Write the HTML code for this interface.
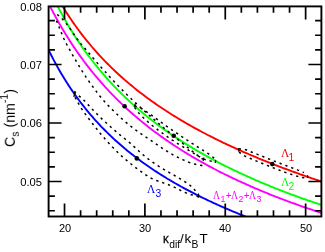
<!DOCTYPE html>
<html><head><meta charset="utf-8"><style>
html,body{margin:0;padding:0;background:#fff;}
body{width:325px;height:252px;position:relative;overflow:hidden;font-family:"Liberation Sans",sans-serif;color:#000;}
.t{position:absolute;white-space:nowrap;line-height:1;will-change:transform;}
.yl{font-size:11.2px;text-align:right;width:30px;left:11.5px;}
.xl{font-size:11px;text-align:center;width:30px;top:222.6px;}
.lam{font-family:"Liberation Serif",serif;}
.L{display:inline-block;transform-origin:0 50%;transform:scaleX(0.82);}
.p{font-family:"Liberation Sans",sans-serif;font-size:10px;margin:0 -0.5px 0 0.3px;}
sub.s{font-family:"Liberation Sans",sans-serif;vertical-align:baseline;position:relative;line-height:0;}
</style></head><body>
<svg width="325" height="252" viewBox="0 0 325 252" style="position:absolute;left:0;top:0">
<defs><clipPath id="c"><rect x="48.60" y="6.40" width="272.80" height="210.10"/></clipPath></defs>
<g clip-path="url(#c)">
<path d="M48.60 49.98 L50.05 52.91 L51.50 55.78 L52.95 58.58 L54.40 61.32 L55.84 64.00 L57.29 66.62 L58.74 69.19 L60.19 71.71 L61.64 74.17 L63.09 76.59 L64.54 78.95 L65.99 81.27 L67.44 83.55 L68.88 85.78 L70.33 87.97 L71.78 90.11 L73.23 92.22 L74.68 94.29 L76.13 96.32 L77.58 98.32 L79.03 100.28 L80.48 102.20 L81.93 104.09 L83.37 105.95 L84.82 107.78 L86.27 109.58 L87.72 111.34 L89.17 113.08 L90.62 114.79 L92.07 116.47 L93.52 118.13 L94.97 119.76 L96.41 121.37 L97.86 122.95 L99.31 124.50 L100.76 126.03 L102.21 127.54 L103.66 129.03 L105.11 130.50 L106.56 131.94 L108.01 133.37 L109.45 134.77 L110.90 136.16 L112.35 137.52 L113.80 138.87 L115.25 140.20 L116.70 141.51 L118.15 142.80 L119.60 144.08 L121.05 145.34 L122.49 146.58 L123.94 147.81 L125.39 149.02 L126.84 150.22 L128.29 151.40 L129.74 152.56 L131.19 153.72 L132.64 154.86 L134.09 155.98 L135.54 157.09 L136.98 158.19 L138.43 159.28 L139.88 160.35 L141.33 161.42 L142.78 162.47 L144.23 163.50 L145.68 164.53 L147.13 165.54 L148.58 166.55 L150.02 167.54 L151.47 168.52 L152.92 169.50 L154.37 170.46 L155.82 171.41 L157.27 172.35 L158.72 173.29 L160.17 174.21 L161.62 175.12 L163.06 176.03 L164.51 176.92 L165.96 177.81 L167.41 178.69 L168.86 179.56 L170.31 180.42 L171.76 181.27 L173.21 182.12 L174.66 182.96 L176.11 183.78 L177.55 184.61 L179.00 185.42 L180.45 186.23 L181.90 187.03 L183.35 187.82 L184.80 188.61 L186.25 189.39 L187.70 190.16 L189.15 190.93 L190.59 191.68 L192.04 192.44 L193.49 193.18 L194.94 193.92 L196.39 194.66 L197.84 195.39 L199.29 196.11 L200.74 196.83 L202.19 197.54 L203.63 198.24 L205.08 198.94 L206.53 199.64 L207.98 200.32 L209.43 201.01 L210.88 201.69 L212.33 202.36 L213.78 203.03 L215.23 203.69 L216.67 204.35 L218.12 205.00 L219.57 205.65 L221.02 206.30 L222.47 206.93 L223.92 207.57 L225.37 208.20 L226.82 208.83 L228.27 209.45 L229.72 210.06 L231.16 210.68 L232.61 211.29 L234.06 211.89 L235.51 212.49 L236.96 213.09 L238.41 213.68 L239.86 214.27 L241.31 214.85 L242.76 215.43 L244.20 216.01 L245.65 216.58 L247.10 217.15 L248.55 217.72 L250.00 218.28" stroke="#0000ff" stroke-width="1.9" fill="none"/>
<path d="M48.60 3.43 L50.56 7.31 L52.53 11.10 L54.49 14.79 L56.45 18.40 L58.41 21.92 L60.38 25.36 L62.34 28.72 L64.30 32.01 L66.26 35.22 L68.23 38.36 L70.19 41.43 L72.15 44.44 L74.11 47.38 L76.08 50.27 L78.04 53.09 L80.00 55.85 L81.96 58.56 L83.93 61.22 L85.89 63.82 L87.85 66.38 L89.81 68.88 L91.78 71.34 L93.74 73.76 L95.70 76.12 L97.66 78.45 L99.63 80.73 L101.59 82.98 L103.55 85.18 L105.52 87.34 L107.48 89.47 L109.44 91.57 L111.40 93.62 L113.37 95.65 L115.33 97.64 L117.29 99.59 L119.25 101.52 L121.22 103.42 L123.18 105.28 L125.14 107.12 L127.10 108.93 L129.07 110.71 L131.03 112.46 L132.99 114.19 L134.95 115.89 L136.92 117.57 L138.88 119.23 L140.84 120.86 L142.80 122.46 L144.77 124.05 L146.73 125.61 L148.69 127.15 L150.65 128.67 L152.62 130.17 L154.58 131.65 L156.54 133.11 L158.51 134.55 L160.47 135.97 L162.43 137.37 L164.39 138.75 L166.36 140.12 L168.32 141.47 L170.28 142.81 L172.24 144.12 L174.21 145.42 L176.17 146.71 L178.13 147.98 L180.09 149.23 L182.06 150.47 L184.02 151.69 L185.98 152.90 L187.94 154.10 L189.91 155.28 L191.87 156.45 L193.83 157.61 L195.79 158.75 L197.76 159.88 L199.72 161.00 L201.68 162.10 L203.64 163.20 L205.61 164.28 L207.57 165.35 L209.53 166.41 L211.49 167.45 L213.46 168.49 L215.42 169.52 L217.38 170.53 L219.35 171.54 L221.31 172.53 L223.27 173.52 L225.23 174.49 L227.20 175.46 L229.16 176.41 L231.12 177.36 L233.08 178.30 L235.05 179.22 L237.01 180.14 L238.97 181.05 L240.93 181.95 L242.90 182.85 L244.86 183.73 L246.82 184.61 L248.78 185.48 L250.75 186.34 L252.71 187.19 L254.67 188.04 L256.63 188.87 L258.60 189.71 L260.56 190.53 L262.52 191.34 L264.48 192.15 L266.45 192.95 L268.41 193.75 L270.37 194.54 L272.34 195.32 L274.30 196.09 L276.26 196.86 L278.22 197.62 L280.19 198.38 L282.15 199.12 L284.11 199.87 L286.07 200.60 L288.04 201.33 L290.00 202.06 L291.96 202.78 L293.92 203.49 L295.89 204.20 L297.85 204.90 L299.81 205.60 L301.77 206.29 L303.74 206.98 L305.70 207.66 L307.66 208.33 L309.62 209.00 L311.59 209.67 L313.55 210.33 L315.51 210.98 L317.47 211.63 L319.44 212.28 L321.40 212.92" stroke="#ff00ff" stroke-width="1.9" fill="none"/>
<path d="M52.00 -4.88 L53.94 -0.93 L55.88 2.93 L57.81 6.68 L59.75 10.35 L61.69 13.92 L63.63 17.41 L65.57 20.81 L67.51 24.14 L69.44 27.39 L71.38 30.56 L73.32 33.66 L75.26 36.70 L77.20 39.67 L79.13 42.57 L81.07 45.42 L83.01 48.20 L84.95 50.93 L86.89 53.60 L88.82 56.21 L90.76 58.78 L92.70 61.29 L94.64 63.76 L96.58 66.18 L98.52 68.55 L100.45 70.88 L102.39 73.17 L104.33 75.42 L106.27 77.62 L108.21 79.79 L110.14 81.91 L112.08 84.00 L114.02 86.06 L115.96 88.08 L117.90 90.07 L119.83 92.02 L121.77 93.94 L123.71 95.83 L125.65 97.69 L127.59 99.53 L129.53 101.33 L131.46 103.10 L133.40 104.85 L135.34 106.57 L137.28 108.27 L139.22 109.94 L141.15 111.58 L143.09 113.21 L145.03 114.80 L146.97 116.38 L148.91 117.93 L150.84 119.47 L152.78 120.98 L154.72 122.47 L156.66 123.94 L158.60 125.39 L160.54 126.82 L162.47 128.23 L164.41 129.62 L166.35 131.00 L168.29 132.36 L170.23 133.70 L172.16 135.03 L174.10 136.33 L176.04 137.63 L177.98 138.90 L179.92 140.16 L181.85 141.41 L183.79 142.64 L185.73 143.86 L187.67 145.06 L189.61 146.25 L191.55 147.42 L193.48 148.58 L195.42 149.73 L197.36 150.87 L199.30 151.99 L201.24 153.10 L203.17 154.20 L205.11 155.29 L207.05 156.36 L208.99 157.43 L210.93 158.48 L212.86 159.52 L214.80 160.55 L216.74 161.57 L218.68 162.58 L220.62 163.58 L222.56 164.57 L224.49 165.55 L226.43 166.52 L228.37 167.48 L230.31 168.43 L232.25 169.38 L234.18 170.31 L236.12 171.23 L238.06 172.15 L240.00 173.06 L241.94 173.96 L243.87 174.85 L245.81 175.73 L247.75 176.60 L249.69 177.47 L251.63 178.33 L253.57 179.18 L255.50 180.02 L257.44 180.86 L259.38 181.69 L261.32 182.51 L263.26 183.33 L265.19 184.13 L267.13 184.93 L269.07 185.73 L271.01 186.52 L272.95 187.30 L274.88 188.07 L276.82 188.84 L278.76 189.60 L280.70 190.36 L282.64 191.11 L284.58 191.85 L286.51 192.59 L288.45 193.32 L290.39 194.05 L292.33 194.77 L294.27 195.49 L296.20 196.20 L298.14 196.90 L300.08 197.60 L302.02 198.30 L303.96 198.99 L305.89 199.67 L307.83 200.35 L309.77 201.02 L311.71 201.69 L313.65 202.35 L315.59 203.01 L317.52 203.67 L319.46 204.32 L321.40 204.96" stroke="#00ff00" stroke-width="1.9" fill="none"/>
<path d="M56.00 -4.78 L57.91 -1.43 L59.82 1.83 L61.73 5.02 L63.64 8.12 L65.55 11.16 L67.46 14.12 L69.37 17.02 L71.27 19.84 L73.18 22.61 L75.09 25.31 L77.00 27.96 L78.91 30.55 L80.82 33.08 L82.73 35.57 L84.64 38.00 L86.55 40.38 L88.46 42.72 L90.37 45.01 L92.28 47.25 L94.19 49.45 L96.10 51.62 L98.01 53.74 L99.92 55.82 L101.82 57.86 L103.73 59.87 L105.64 61.85 L107.55 63.79 L109.46 65.69 L111.37 67.57 L113.28 69.41 L115.19 71.22 L117.10 73.01 L119.01 74.76 L120.92 76.49 L122.83 78.19 L124.74 79.87 L126.65 81.51 L128.56 83.14 L130.46 84.74 L132.37 86.32 L134.28 87.87 L136.19 89.40 L138.10 90.91 L140.01 92.40 L141.92 93.87 L143.83 95.32 L145.74 96.75 L147.65 98.16 L149.56 99.55 L151.47 100.92 L153.38 102.28 L155.29 103.62 L157.20 104.94 L159.11 106.24 L161.01 107.53 L162.92 108.81 L164.83 110.06 L166.74 111.31 L168.65 112.54 L170.56 113.75 L172.47 114.95 L174.38 116.14 L176.29 117.31 L178.20 118.47 L180.11 119.62 L182.02 120.75 L183.93 121.88 L185.84 122.99 L187.75 124.09 L189.65 125.18 L191.56 126.25 L193.47 127.32 L195.38 128.37 L197.29 129.42 L199.20 130.45 L201.11 131.47 L203.02 132.49 L204.93 133.49 L206.84 134.48 L208.75 135.47 L210.66 136.44 L212.57 137.41 L214.48 138.37 L216.39 139.31 L218.29 140.25 L220.20 141.19 L222.11 142.11 L224.02 143.03 L225.93 143.93 L227.84 144.83 L229.75 145.72 L231.66 146.61 L233.57 147.48 L235.48 148.35 L237.39 149.22 L239.30 150.07 L241.21 150.92 L243.12 151.76 L245.03 152.60 L246.94 153.42 L248.84 154.25 L250.75 155.06 L252.66 155.87 L254.57 156.67 L256.48 157.47 L258.39 158.26 L260.30 159.05 L262.21 159.83 L264.12 160.60 L266.03 161.37 L267.94 162.13 L269.85 162.89 L271.76 163.64 L273.67 164.38 L275.58 165.12 L277.48 165.86 L279.39 166.59 L281.30 167.32 L283.21 168.04 L285.12 168.75 L287.03 169.46 L288.94 170.17 L290.85 170.87 L292.76 171.57 L294.67 172.26 L296.58 172.95 L298.49 173.64 L300.40 174.32 L302.31 174.99 L304.22 175.66 L306.13 176.33 L308.03 176.99 L309.94 177.65 L311.85 178.31 L313.76 178.96 L315.67 179.60 L317.58 180.25 L319.49 180.89 L321.40 181.52" stroke="#ff0000" stroke-width="1.9" fill="none"/>
<path d="M57.20 14.50 L58.69 15.60 L59.40 16.20 L60.22 16.93 L61.17 17.81 L62.09 18.72 L62.97 19.66 L63.82 20.64 L64.65 21.64 L65.48 22.64 L66.30 23.65 L67.11 24.66 L67.91 25.69 L68.68 26.73 L69.45 27.78 L70.20 28.84 L70.94 29.91 L71.66 30.99 L72.38 32.07 L73.10 33.15 L73.82 34.24 L74.54 35.32 L75.27 36.39 L76.02 37.46 L76.77 38.52 L77.54 39.56 L78.32 40.60 L79.12 41.63 L79.94 42.63 L80.77 43.63 L81.60 44.63 L82.45 45.61 L83.30 46.59 L84.16 47.57 L85.02 48.54 L85.88 49.52 L86.74 50.50 L87.59 51.48 L88.44 52.46 L89.29 53.45 L90.13 54.44 L90.97 55.43 L91.81 56.42 L92.64 57.42 L93.48 58.41 L94.32 59.40 L95.16 60.40 L95.99 61.39 L96.83 62.38 L97.67 63.38 L98.52 64.36 L99.37 65.35 L100.22 66.32 L101.08 67.30 L101.95 68.26 L102.83 69.23 L103.70 70.19 L104.58 71.14 L105.46 72.10 L106.34 73.06 L107.22 74.02 L108.10 74.98 L108.98 75.93 L109.86 76.89 L110.74 77.84 L111.62 78.80 L112.51 79.75 L113.39 80.70 L114.28 81.65 L115.17 82.60 L116.05 83.55 L116.94 84.50 L117.83 85.45 L118.72 86.39 L119.62 87.33 L120.53 88.26 L121.44 89.19 L122.36 90.11 L123.28 91.03 L124.20 91.94 L125.13 92.85 L126.05 93.77 L126.97 94.68 L127.90 95.59 L128.83 96.51 L129.76 97.41 L130.69 98.32 L131.63 99.21 L132.57 100.11 L133.52 101.00 L134.47 101.88 L135.43 102.76 L136.39 103.64 L137.34 104.52 L138.30 105.40 L139.25 106.28 L140.21 107.16 L141.17 108.05 L142.12 108.93 L143.08 109.80 L144.04 110.68 L145.01 111.54 L145.98 112.41 L146.95 113.27 L147.93 114.13 L148.91 114.98 L149.89 115.83 L150.87 116.69 L151.85 117.54 L152.83 118.39 L153.81 119.25 L154.79 120.10 L155.77 120.95 L156.75 121.81 L157.73 122.66 L158.71 123.52 L159.69 124.37 L160.67 125.23 L161.65 126.08 L162.64 126.93 L163.63 127.77 L164.62 128.61 L165.62 129.44 L166.62 130.27 L167.62 131.09 L168.63 131.92 L169.64 132.74 L170.64 133.56 L171.65 134.38 L172.65 135.21 L173.66 136.03 L174.67 136.85 L175.68 137.67 L176.68 138.49 L177.69 139.31 L178.70 140.13 L179.71 140.96 L180.71 141.78 L181.72 142.60 L182.73 143.42 L183.74 144.24 L184.74 145.06 L185.75 145.88 L186.76 146.70 L187.77 147.53 L188.77 148.35 L189.78 149.17 L190.79 149.99 L191.80 150.81 L192.80 151.63 L193.81 152.45 L194.82 153.27 L195.84 154.08 L196.87 154.87 L197.90 155.66 L198.95 156.43 L200.00 157.19 L200.91 157.84 L201.67 158.36 L203.20 159.42 M56.50 20.66 L57.73 23.71 L58.96 26.75 L60.19 29.80 L61.42 32.85 L62.66 35.91 L63.89 38.74 L65.12 41.34 L66.35 43.72 L67.58 46.00 L68.81 48.25 L70.04 50.48 L71.27 52.68 L72.50 54.85 L73.74 57.01 L74.97 59.14 L76.20 61.24 L77.43 63.32 L78.66 65.38 L79.89 67.42 L81.12 69.43 L82.35 71.39 L83.58 73.32 L84.82 75.22 L86.05 77.08 L87.28 78.90 L88.51 80.69 L89.74 82.45 L90.97 84.17 L92.20 85.87 L93.43 87.55 L94.66 89.22 L95.89 90.87 L97.13 92.50 L98.36 94.11 L99.59 95.68 L100.82 97.21 L102.05 98.69 L103.28 100.14 L104.51 101.55 L105.74 102.92 L106.97 104.25 L108.21 105.54 L109.44 106.79 L110.67 108.04 L111.90 109.27 L113.13 110.48 L114.36 111.69 L115.59 112.88 L116.82 114.05 L118.05 115.22 L119.29 116.37 L120.52 117.51 L121.75 118.64 L122.98 119.75 L124.21 120.84 L125.44 121.90 L126.67 122.94 L127.90 123.96 L129.13 124.96 L130.37 125.94 L131.60 126.89 L132.83 127.82 L134.06 128.74 L135.29 129.65 L136.52 130.55 L137.75 131.44 L138.98 132.32 L140.21 133.19 L141.45 134.05 L142.68 134.90 L143.91 135.74 L145.14 136.58 L146.37 137.41 L147.60 138.24 L148.83 139.07 L150.06 139.90 L151.29 140.74 L152.53 141.58 L153.76 142.42 L154.99 143.27 L156.22 144.12 L157.45 144.97 L158.68 145.81 L159.91 146.64 L161.14 147.47 L162.37 148.29 L163.61 149.10 L164.84 149.91 L166.07 150.70 L167.30 151.49 L168.53 152.26 L169.76 153.01 L170.99 153.73 L172.22 154.43 L173.45 155.11 L174.68 155.76 L175.92 156.40 L177.15 157.01 L178.38 157.61 L179.61 158.20 L180.84 158.78 L182.07 159.36 L183.30 159.93 L184.53 160.49 L185.76 161.04 L187.00 161.56 L188.23 162.04 L189.46 162.50 L190.69 162.92 L191.92 163.32 L193.15 163.69 L194.38 164.02 L195.61 164.33 L196.84 164.62 L198.08 164.77 L199.31 164.97 L200.54 165.21 L201.77 165.50 L203.00 165.82 M134.80 105.65 L135.48 106.02 L136.16 106.35 L136.84 106.63 L137.52 106.87 L138.20 107.08 L138.88 107.33 L139.56 107.60 L140.24 107.91 L140.92 108.23 L141.60 108.59 L142.28 108.98 L142.96 109.40 L143.64 109.85 L144.32 110.30 L145.00 110.75 L145.68 111.20 L146.36 111.65 L147.04 112.10 L147.72 112.56 L148.40 113.03 L149.08 113.51 L149.76 113.99 L150.44 114.47 L151.12 114.96 L151.80 115.46 L152.48 115.96 L153.16 116.46 L153.84 116.97 L154.52 117.47 L155.19 117.97 L155.87 118.46 L156.55 118.96 L157.23 119.45 L157.91 119.94 L158.59 120.43 L159.27 120.92 L159.95 121.41 L160.63 121.90 L161.31 122.39 L161.99 122.89 L162.67 123.38 L163.35 123.87 L164.03 124.35 L164.71 124.84 L165.39 125.32 L166.07 125.80 L166.75 126.28 L167.43 126.76 L168.11 127.24 L168.79 127.71 L169.47 128.18 L170.15 128.65 L170.83 129.12 L171.51 129.58 L172.19 130.04 L172.87 130.50 L173.55 130.96 L174.23 131.42 L174.91 131.89 L175.59 132.35 L176.27 132.81 L176.95 133.28 L177.63 133.74 L178.31 134.21 L178.99 134.68 L179.67 135.15 L180.35 135.62 L181.03 136.08 L181.71 136.54 L182.39 137.00 L183.07 137.46 L183.75 137.92 L184.43 138.38 L185.11 138.83 L185.79 139.29 L186.47 139.74 L187.15 140.19 L187.83 140.64 L188.51 141.09 L189.19 141.53 L189.87 141.98 L190.55 142.42 L191.23 142.86 L191.91 143.30 L192.59 143.74 L193.27 144.18 L193.95 144.61 L194.63 145.05 L195.31 145.48 L195.98 145.91 L196.66 146.34 L197.34 146.76 L198.02 147.19 L198.70 147.61 L199.38 148.04 L200.06 148.47 L200.74 148.89 L201.42 149.32 L202.10 149.76 L202.78 150.19 L203.46 150.63 L204.14 151.06 L204.82 151.50 L205.50 151.94 L206.18 152.38 L206.86 152.82 L207.54 153.25 L208.22 153.69 L208.90 154.12 L209.58 154.58 L210.26 155.06 L210.94 155.58 L211.62 156.12 L212.30 156.70 L212.98 157.31 L213.66 157.91 L214.34 158.50 L215.02 159.09 L215.70 159.64 M134.50 107.39 L135.18 108.27 L135.86 109.17 L136.54 110.07 L137.22 110.99 L137.90 111.91 L138.58 112.78 L139.26 113.60 L139.94 114.38 L140.62 115.10 L141.30 115.76 L141.98 116.42 L142.66 117.06 L143.34 117.70 L144.02 118.33 L144.70 118.96 L145.38 119.57 L146.06 120.19 L146.74 120.80 L147.42 121.40 L148.10 122.01 L148.78 122.61 L149.46 123.20 L150.14 123.78 L150.82 124.35 L151.50 124.92 L152.18 125.47 L152.86 126.02 L153.54 126.55 L154.22 127.08 L154.89 127.60 L155.57 128.12 L156.25 128.63 L156.93 129.14 L157.61 129.65 L158.29 130.16 L158.97 130.67 L159.65 131.17 L160.33 131.67 L161.01 132.17 L161.69 132.66 L162.37 133.16 L163.05 133.65 L163.73 134.14 L164.41 134.63 L165.09 135.11 L165.77 135.59 L166.45 136.07 L167.13 136.55 L167.81 137.03 L168.49 137.50 L169.17 137.97 L169.85 138.44 L170.53 138.90 L171.21 139.35 L171.89 139.81 L172.57 140.26 L173.25 140.71 L173.93 141.15 L174.61 141.59 L175.29 142.03 L175.97 142.46 L176.65 142.90 L177.33 143.33 L178.01 143.76 L178.69 144.19 L179.37 144.61 L180.05 145.04 L180.73 145.46 L181.41 145.88 L182.09 146.30 L182.77 146.72 L183.45 147.13 L184.13 147.55 L184.81 147.96 L185.49 148.37 L186.17 148.78 L186.85 149.19 L187.53 149.60 L188.21 150.01 L188.89 150.42 L189.57 150.83 L190.25 151.24 L190.93 151.65 L191.61 152.06 L192.29 152.47 L192.97 152.87 L193.65 153.28 L194.33 153.68 L195.01 154.09 L195.68 154.49 L196.36 154.89 L197.04 155.30 L197.72 155.71 L198.40 156.11 L199.08 156.52 L199.76 156.94 L200.44 157.34 L201.12 157.73 L201.80 158.09 L202.48 158.43 L203.16 158.75 L203.84 159.05 L204.52 159.32 L205.20 159.56 L205.88 159.78 L206.56 159.99 L207.24 160.18 L207.92 160.37 L208.60 160.54 L209.28 160.71 L209.96 160.87 L210.64 161.02 L211.32 161.15 L212.00 161.28 L212.68 161.40 L213.36 161.55 L214.04 161.72 L214.72 161.92 L215.40 162.14 M74.20 91.74 L75.25 92.79 L76.29 93.76 L77.34 94.68 L78.38 95.54 L79.43 96.34 L80.47 97.19 L81.52 98.08 L82.56 99.02 L83.61 100.01 L84.65 101.06 L85.70 102.13 L86.74 103.22 L87.79 104.32 L88.84 105.44 L89.88 106.56 L90.93 107.68 L91.97 108.79 L93.02 109.91 L94.06 111.01 L95.11 112.10 L96.15 113.18 L97.20 114.24 L98.24 115.29 L99.29 116.33 L100.33 117.35 L101.38 118.37 L102.43 119.37 L103.47 120.36 L104.52 121.34 L105.56 122.31 L106.61 123.27 L107.65 124.22 L108.70 125.16 L109.74 126.10 L110.79 127.03 L111.83 127.96 L112.88 128.87 L113.92 129.79 L114.97 130.69 L116.02 131.59 L117.06 132.48 L118.11 133.36 L119.15 134.23 L120.20 135.09 L121.24 135.94 L122.29 136.79 L123.33 137.62 L124.38 138.45 L125.42 139.27 L126.47 140.10 L127.51 140.95 L128.56 141.81 L129.61 142.69 L130.65 143.59 L131.70 144.50 L132.74 145.44 L133.79 146.39 L134.83 147.36 L135.88 148.33 L136.92 149.30 L137.97 150.26 L139.01 151.21 L140.06 152.16 L141.10 153.10 L142.15 154.01 L143.19 154.90 L144.24 155.78 L145.29 156.62 L146.33 157.45 L147.38 158.26 L148.42 159.05 L149.47 159.81 L150.51 160.56 L151.56 161.30 L152.60 162.04 L153.65 162.77 L154.69 163.50 L155.74 164.22 L156.78 164.92 L157.83 165.62 L158.88 166.30 L159.92 166.97 L160.97 167.63 L162.01 168.28 L163.06 168.91 L164.10 169.53 L165.15 170.14 L166.19 170.74 L167.24 171.34 L168.28 171.94 L169.33 172.53 L170.37 173.11 L171.42 173.70 L172.47 174.29 L173.51 174.89 L174.56 175.49 L175.60 176.10 L176.65 176.72 L177.69 177.34 L178.74 177.96 L179.78 178.60 L180.83 179.23 L181.87 179.87 L182.92 180.52 L183.96 181.17 L185.01 181.83 L186.06 182.50 L187.10 183.18 L188.15 183.88 L189.19 184.66 L190.24 185.53 L191.28 186.46 L192.33 187.46 L193.37 188.52 L194.42 189.66 L195.46 190.78 L196.51 191.87 L197.55 192.93 L198.60 193.89 M75.00 97.33 L76.04 99.18 L77.08 101.02 L78.12 102.85 L79.15 104.67 L80.19 106.49 L81.23 108.17 L82.27 109.71 L83.31 111.21 L84.35 112.67 L85.39 114.10 L86.43 115.51 L87.46 116.92 L88.50 118.32 L89.54 119.72 L90.58 121.09 L91.62 122.46 L92.66 123.81 L93.70 125.14 L94.73 126.47 L95.77 127.78 L96.81 129.08 L97.85 130.37 L98.89 131.65 L99.93 132.91 L100.97 134.17 L102.01 135.41 L103.04 136.64 L104.08 137.86 L105.12 139.06 L106.16 140.24 L107.20 141.41 L108.24 142.56 L109.28 143.69 L110.31 144.81 L111.35 145.91 L112.39 147.00 L113.43 148.07 L114.47 149.13 L115.51 150.18 L116.55 151.22 L117.58 152.24 L118.62 153.23 L119.66 154.21 L120.70 155.18 L121.74 156.12 L122.78 157.05 L123.82 157.95 L124.86 158.84 L125.89 159.72 L126.93 160.59 L127.97 161.46 L129.01 162.31 L130.05 163.16 L131.09 164.00 L132.13 164.84 L133.16 165.67 L134.20 166.49 L135.24 167.30 L136.28 168.10 L137.32 168.89 L138.36 169.67 L139.40 170.44 L140.44 171.19 L141.47 171.93 L142.51 172.65 L143.55 173.37 L144.59 174.07 L145.63 174.76 L146.67 175.45 L147.71 176.13 L148.74 176.78 L149.78 177.39 L150.82 177.97 L151.86 178.51 L152.90 179.02 L153.94 179.49 L154.98 179.93 L156.02 180.33 L157.05 180.70 L158.09 181.06 L159.13 181.42 L160.17 181.78 L161.21 182.14 L162.25 182.51 L163.29 182.87 L164.32 183.24 L165.36 183.61 L166.40 183.98 L167.44 184.34 L168.48 184.72 L169.52 185.12 L170.56 185.54 L171.59 185.97 L172.63 186.43 L173.67 186.90 L174.71 187.39 L175.75 187.90 L176.79 188.43 L177.83 188.97 L178.87 189.50 L179.90 190.03 L180.94 190.55 L181.98 191.07 L183.02 191.57 L184.06 192.04 L185.10 192.48 L186.14 192.91 L187.17 193.31 L188.21 193.69 L189.25 194.04 L190.29 194.37 L191.33 194.68 L192.37 194.99 L193.41 195.29 L194.45 195.60 L195.48 195.92 L196.52 196.26 L197.56 196.63 L198.60 197.02 M238.80 148.63 L239.35 148.77 L239.90 148.88 L240.44 148.98 L240.99 149.05 L241.54 149.09 L242.09 149.14 L242.64 149.19 L243.18 149.25 L243.73 149.33 L244.28 149.43 L244.83 149.55 L245.37 149.69 L245.92 149.84 L246.47 150.02 L247.02 150.22 L247.57 150.44 L248.11 150.66 L248.66 150.88 L249.21 151.10 L249.76 151.32 L250.31 151.55 L250.85 151.77 L251.40 151.99 L251.95 152.21 L252.50 152.42 L253.05 152.64 L253.59 152.86 L254.14 153.08 L254.69 153.29 L255.24 153.51 L255.78 153.73 L256.33 153.94 L256.88 154.16 L257.43 154.37 L257.98 154.58 L258.52 154.80 L259.07 155.01 L259.62 155.22 L260.17 155.44 L260.72 155.65 L261.26 155.87 L261.81 156.08 L262.36 156.30 L262.91 156.52 L263.46 156.74 L264.00 156.96 L264.55 157.18 L265.10 157.41 L265.65 157.63 L266.19 157.85 L266.74 158.07 L267.29 158.29 L267.84 158.51 L268.39 158.73 L268.93 158.95 L269.48 159.17 L270.03 159.39 L270.58 159.61 L271.13 159.83 L271.67 160.05 L272.22 160.26 L272.77 160.48 L273.32 160.70 L273.87 160.91 L274.41 161.13 L274.96 161.34 L275.51 161.56 L276.06 161.77 L276.61 161.98 L277.15 162.20 L277.70 162.41 L278.25 162.62 L278.80 162.84 L279.34 163.05 L279.89 163.26 L280.44 163.47 L280.99 163.68 L281.54 163.89 L282.08 164.10 L282.63 164.31 L283.18 164.52 L283.73 164.73 L284.28 164.94 L284.82 165.15 L285.37 165.36 L285.92 165.57 L286.47 165.78 L287.02 165.99 L287.56 166.20 L288.11 166.41 L288.66 166.62 L289.21 166.83 L289.75 167.03 L290.30 167.24 L290.85 167.45 L291.40 167.66 L291.95 167.87 L292.49 168.07 L293.04 168.28 L293.59 168.49 L294.14 168.69 L294.69 168.90 L295.23 169.10 L295.78 169.31 L296.33 169.51 L296.88 169.72 L297.43 169.92 L297.97 170.13 L298.52 170.33 L299.07 170.55 L299.62 170.76 L300.16 170.98 L300.71 171.20 L301.26 171.43 L301.81 171.65 L302.36 171.88 L302.90 172.11 L303.45 172.33 L304.00 172.54 M239.00 152.14 L239.57 152.50 L240.14 152.87 L240.71 153.27 L241.29 153.69 L241.86 154.12 L242.43 154.53 L243.00 154.91 L243.57 155.28 L244.14 155.63 L244.71 155.95 L245.29 156.26 L245.86 156.54 L246.43 156.81 L247.00 157.05 L247.57 157.30 L248.14 157.54 L248.71 157.79 L249.29 158.04 L249.86 158.28 L250.43 158.52 L251.00 158.77 L251.57 159.01 L252.14 159.25 L252.71 159.49 L253.29 159.73 L253.86 159.97 L254.43 160.21 L255.00 160.45 L255.57 160.69 L256.14 160.93 L256.71 161.17 L257.29 161.40 L257.86 161.64 L258.43 161.88 L259.00 162.11 L259.57 162.35 L260.14 162.58 L260.71 162.82 L261.29 163.05 L261.86 163.28 L262.43 163.51 L263.00 163.75 L263.57 163.98 L264.14 164.21 L264.71 164.44 L265.29 164.67 L265.86 164.90 L266.43 165.13 L267.00 165.35 L267.57 165.58 L268.14 165.81 L268.71 166.04 L269.29 166.26 L269.86 166.49 L270.43 166.71 L271.00 166.94 L271.57 167.16 L272.14 167.39 L272.71 167.61 L273.29 167.83 L273.86 168.06 L274.43 168.28 L275.00 168.50 L275.57 168.72 L276.14 168.94 L276.71 169.16 L277.29 169.38 L277.86 169.60 L278.43 169.82 L279.00 170.04 L279.57 170.26 L280.14 170.48 L280.71 170.69 L281.29 170.91 L281.86 171.13 L282.43 171.34 L283.00 171.56 L283.57 171.77 L284.14 171.98 L284.71 172.18 L285.29 172.38 L285.86 172.58 L286.43 172.78 L287.00 172.97 L287.57 173.16 L288.14 173.35 L288.71 173.54 L289.29 173.73 L289.86 173.91 L290.43 174.10 L291.00 174.29 L291.57 174.47 L292.14 174.66 L292.71 174.85 L293.29 175.03 L293.86 175.22 L294.43 175.40 L295.00 175.58 L295.57 175.77 L296.14 175.95 L296.71 176.13 L297.29 176.31 L297.86 176.49 L298.43 176.66 L299.00 176.82 L299.57 176.96 L300.14 177.10 L300.71 177.22 L301.29 177.33 L301.86 177.43 L302.43 177.51 L303.00 177.59 L303.57 177.67 L304.14 177.75 L304.71 177.83 L305.29 177.92 L305.86 178.02 L306.43 178.14 L307.00 178.27" stroke="#000" stroke-width="1.5" stroke-dasharray="2.3 3.9" fill="none"/>
<path d="M203.8 157.5 L203.2 161.0 M135.6 103.2 L134.1 106.8 M215.8 159.8 L215.2 163.0 M75.2 91.0 L73.8 97.0 M198.6 194.0 L198.6 197.5 M238.5 148.2 L238.9 151.8 M307.6 175.2 L307.6 178.0" stroke="#000" stroke-width="1.2" fill="none"/>
<circle cx="124.6" cy="106.2" r="2.3" fill="#000"/>
<circle cx="173.7" cy="135.8" r="2.3" fill="#000"/>
<circle cx="136.8" cy="158.4" r="2.3" fill="#000"/>
<circle cx="272.3" cy="164.1" r="2.3" fill="#000"/>
</g>
<path d="M64.52 216.50 V203.50 M64.52 6.40 V19.40 M80.60 216.50 V210.20 M80.60 6.40 V12.70 M96.67 216.50 V210.20 M96.67 6.40 V12.70 M112.75 216.50 V210.20 M112.75 6.40 V12.70 M128.82 216.50 V210.20 M128.82 6.40 V12.70 M144.89 216.50 V203.50 M144.89 6.40 V19.40 M160.97 216.50 V210.20 M160.97 6.40 V12.70 M177.04 216.50 V210.20 M177.04 6.40 V12.70 M193.12 216.50 V210.20 M193.12 6.40 V12.70 M209.19 216.50 V210.20 M209.19 6.40 V12.70 M225.26 216.50 V203.50 M225.26 6.40 V19.40 M241.34 216.50 V210.20 M241.34 6.40 V12.70 M257.41 216.50 V210.20 M257.41 6.40 V12.70 M273.49 216.50 V210.20 M273.49 6.40 V12.70 M289.56 216.50 V210.20 M289.56 6.40 V12.70 M305.63 216.50 V203.50 M305.63 6.40 V19.40 M48.60 20.63 H54.90 M321.40 20.63 H315.10 M48.60 35.25 H54.90 M321.40 35.25 H315.10 M48.60 49.87 H54.90 M321.40 49.87 H315.10 M48.60 64.50 H61.60 M321.40 64.50 H308.40 M48.60 79.12 H54.90 M321.40 79.12 H315.10 M48.60 93.75 H54.90 M321.40 93.75 H315.10 M48.60 108.38 H54.90 M321.40 108.38 H315.10 M48.60 123.00 H61.60 M321.40 123.00 H308.40 M48.60 137.62 H54.90 M321.40 137.62 H315.10 M48.60 152.25 H54.90 M321.40 152.25 H315.10 M48.60 166.87 H54.90 M321.40 166.87 H315.10 M48.60 181.50 H61.60 M321.40 181.50 H308.40 M48.60 196.12 H54.90 M321.40 196.12 H315.10 M48.60 210.75 H54.90 M321.40 210.75 H315.10" stroke="#000" stroke-width="1.7" fill="none"/>
<rect x="48.60" y="6.40" width="272.80" height="210.10" fill="none" stroke="#000" stroke-width="1.9"/>
</svg>
<div class="t yl" style="top:1.6px">0.08</div>
<div class="t yl" style="top:59.9px">0.07</div>
<div class="t yl" style="top:118.4px">0.06</div>
<div class="t yl" style="top:176.9px">0.05</div>
<div class="t xl" style="left:49.5px">20</div>
<div class="t xl" style="left:129.9px">30</div>
<div class="t xl" style="left:210.3px">40</div>
<div class="t xl" style="left:290.6px">50</div>
<div class="t" id="ylab" style="font-size:14.2px;left:17px;top:146.5px;transform-origin:0 100%;transform:translateY(-100%) rotate(-90deg);">C<sub class="s" style="font-size:10.5px;top:4px">s</sub> (nm<sub class="s" style="font-size:10.5px;top:-7px">-1</sub>)</div>
<div class="t" id="xlab" style="font-size:13.5px;left:163.2px;top:231.5px;"><span style="display:inline-block;width:6.2px;transform-origin:0 0;transform:scaleX(0.86);-webkit-text-stroke:0.3px #000">&kappa;</span><sub class="s" style="font-size:10.3px;top:4.8px">dif</sub>/<span style="margin-left:0.6px">k</span><sub class="s" style="font-size:10.3px;top:4.8px;margin-left:0.3px">B</sub><span style="margin-left:1.2px">T</span></div>
<div class="t lam" id="l1" style="font-size:13.1px;color:#ff0000;left:280.8px;top:145.6px;"><span class="L" style="width:8.2px;transform-origin:0 84%;transform:scale(0.87,1.03)">&Lambda;</span><sub class="s" style="font-size:10.3px;top:3.6px;margin-left:-0.7px">1</sub></div>
<div class="t lam" id="l2" style="font-size:13.1px;color:#00ff00;left:280.8px;top:174.6px;"><span class="L" style="width:8.2px;transform-origin:0 84%;transform:scale(0.87,1.03)">&Lambda;</span><sub class="s" style="font-size:10.3px;top:3.6px;margin-left:-0.7px">2</sub></div>
<div class="t lam" id="l3" style="font-size:13.1px;color:#0000ff;left:146.8px;top:182px;"><span class="L" style="width:8.4px;transform-origin:0 84%;transform:scale(0.87,1.03)">&Lambda;</span><sub class="s" style="font-size:10.3px;top:3.6px">3</sub></div>
<div class="t lam" id="l4" style="font-size:11.7px;color:#ff00ff;left:213px;top:190.2px;"><span class="L" style="width:7.5px">&Lambda;</span><sub class="s" style="font-size:8.8px;top:3px">1</sub><span class="p">+</span><span class="L" style="width:7.5px">&Lambda;</span><sub class="s" style="font-size:8.8px;top:3px">2</sub><span class="p">+</span><span class="L" style="width:7.5px">&Lambda;</span><sub class="s" style="font-size:8.8px;top:3px">3</sub></div>
</body></html>
